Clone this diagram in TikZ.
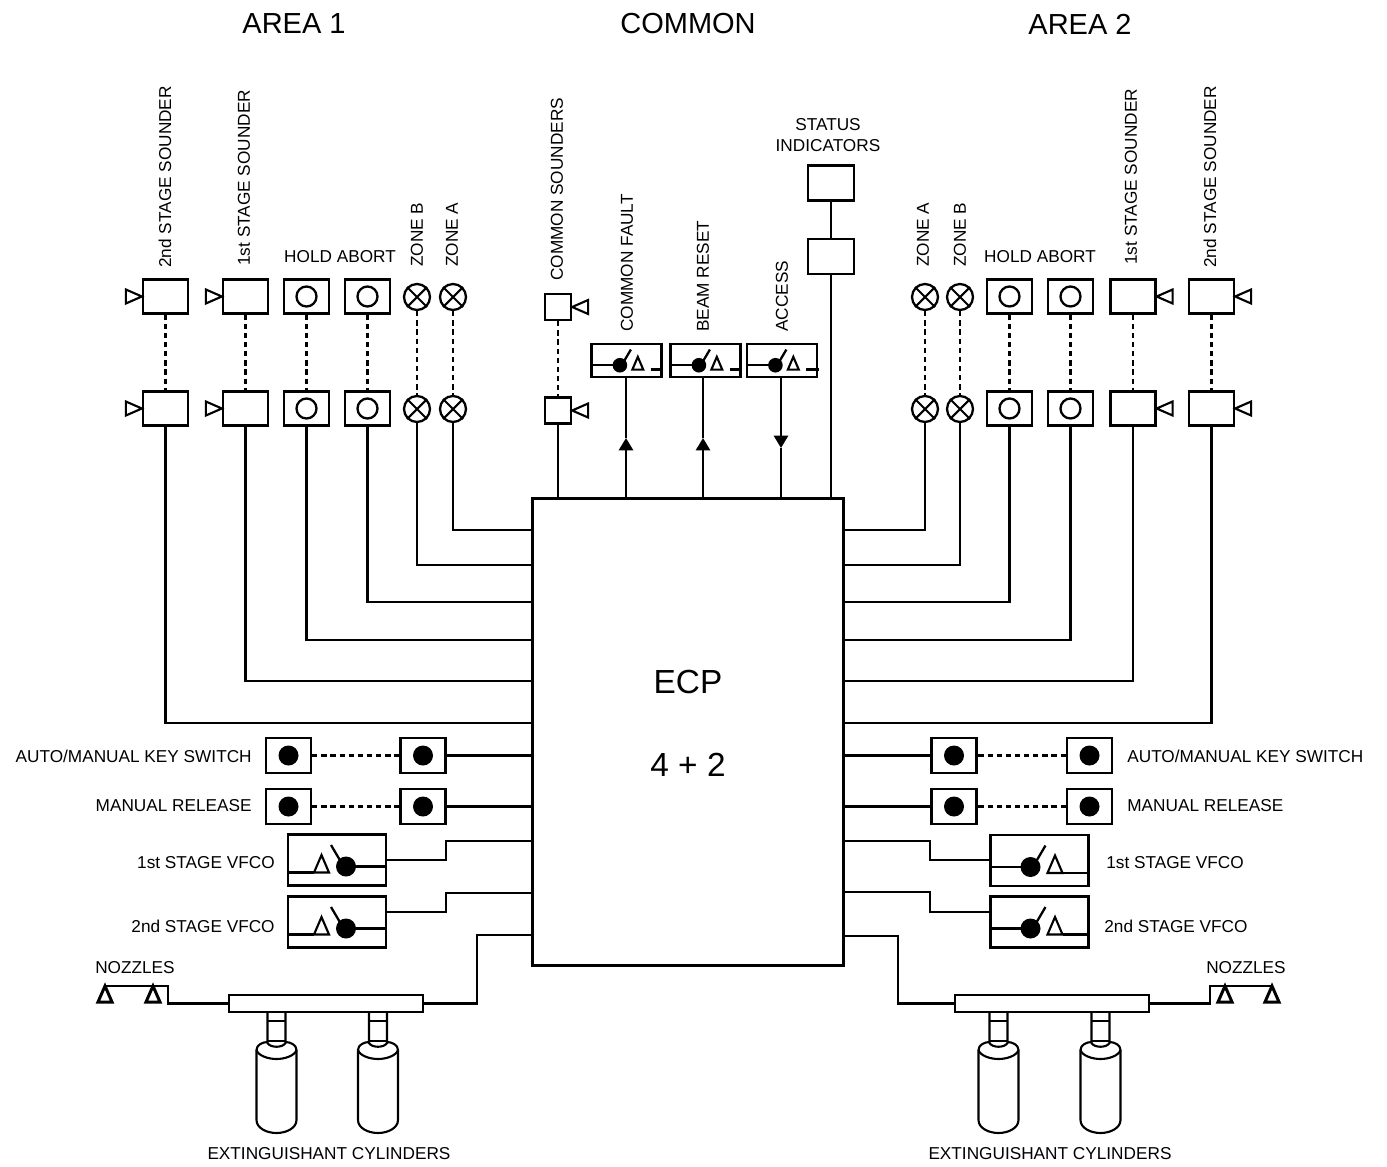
\documentclass[tikz,border=0pt]{standalone}
\usepackage{fontspec}
\setmainfont{Liberation Sans}
\usetikzlibrary{arrows.meta,positioning}
\tikzset{
  wire/.style={line width=1.3pt},
  thinwire/.style={line width=1.2pt},
  link/.style={line width=1.3pt, dash pattern=on 3pt off 2.2pt},
  sndbox/.style={draw, line width=1.3pt, fill=white, inner sep=0pt, minimum width=0.9cm, minimum height=0.68cm},
  smallbox/.style={draw, line width=1.3pt, fill=white, inner sep=0pt, minimum width=0.52cm, minimum height=0.52cm},
  keybox/.style={draw, line width=1.3pt, fill=white, inner sep=0pt, minimum width=0.9cm, minimum height=0.7cm},
  statbox/.style={draw, line width=1.3pt, fill=white, inner sep=0pt, minimum width=0.92cm, minimum height=0.7cm},
  swbox/.style={draw, line width=1.3pt, fill=white, inner sep=0pt, minimum width=1.4cm, minimum height=0.66cm},
  vfcobox/.style={draw, line width=1.3pt, fill=white, inner sep=0pt, minimum width=1.96cm, minimum height=1.02cm},
  zonelamp/.style={draw, circle, line width=1.3pt, fill=white, inner sep=0pt, minimum size=0.52cm},
  manifold/.style={draw, line width=1.3pt, fill=white, inner sep=0pt, minimum width=3.88cm, minimum height=0.34cm},
  label/.style={font=\fontsize{9.8}{12}\selectfont, inner sep=0pt, align=center},
  vlabel/.style={label, rotate=90, anchor=west},
  title/.style={font=\fontsize{16.5}{20}\selectfont, inner sep=0pt}
}
\newcommand{\hornleft}[1]{\draw[thinwire] (#1.west) -- ++(-16,-7) -- ++(0,14) -- cycle;}
\newcommand{\hornright}[1]{\draw[thinwire] (#1.east) -- ++(16,-7) -- ++(0,14) -- cycle;}
\newcommand{\lampcross}[1]{\draw[thinwire] (#1.north west) -- (#1.south east) (#1.north east) -- (#1.south west);}
\newcommand{\switchsym}[3]{%
  \begin{scope}[shift={(#1)},#2]
    \draw[wire] (-50,6.5) -- (-9,6.5);
    \fill (-9,6.5) circle (10);
    \draw[wire] (-4,2) -- (6,-15);
    \draw[thinwire] (8,12.5) -- (15.5,-5) -- (23,12.5) -- cycle;
    \draw[wire] (#3,12.5) -- (50,12.5);
  \end{scope}}
\newcommand{\nozzle}[1]{\draw[line width=1.7pt, fill=white] (#1) -- ++(-7,16) -- ++(14,0) -- cycle;}
\newcommand{\cylinder}[1]{%
  \begin{scope}[shift={(#1,0)}]
    \draw[thinwire] (-20,1120) -- (-20,1050) .. controls (-20,1045) and (-14,1042) .. (-9,1042) -- (9,1042) .. controls (14,1042) and (20,1045) .. (20,1050) -- (20,1120) .. controls (20,1128) and (10,1133) .. (0,1133) .. controls (-10,1133) and (-20,1128) .. (-20,1120);
    \draw[thinwire] (-20,1050) .. controls (-18,1056) and (-8,1059) .. (0,1059) .. controls (8,1059) and (18,1056) .. (20,1050);
    \draw[thinwire, fill=white] (-9,1013) -- (-9,1043) .. controls (-6,1048) and (6,1048) .. (9,1043) -- (9,1013);
    \draw[thinwire] (-9,1021) -- (9,1021) (-9,1041) -- (9,1041);
  \end{scope}}

\begin{document}
\begin{tikzpicture}[x=0.02cm, y=-0.02cm]
  \useasboundingbox (0,0) rectangle (1387,1167);

  % Headings
  \node[title] (tarea1) at (294,24) {AREA 1};
  \node[title] (tcommon) at (688,24) {COMMON};
  \node[title] (tarea2) at (1080,24) {AREA 2};

  % Control panel
  \node[draw, line width=1.3pt, fill=white, inner sep=0pt, minimum width=6.22cm, minimum height=9.34cm] (ecp) at (688,732) {};
  \node[font=\fontsize{19}{22}\selectfont, inner sep=0pt] (tecp) at (688,682) {ECP};
  \node[font=\fontsize{19}{22}\selectfont, inner sep=0pt] (tfour) at (688,765) {4 + 2};

  % Area 1: top row
  \node[sndbox] (s1a) at (165.5,296.5) {};
  \node[sndbox] (s2a) at (245.5,296.5) {};
  \node[sndbox] (h1a) at (306.5,296.5) {};
  \node[sndbox] (h2a) at (367.5,296.5) {};
  \node[zonelamp] (z1a) at (417,297) {};
  \node[zonelamp] (z2a) at (453,297) {};
  % Area 1: bottom row
  \node[sndbox] (s1b) at (165.5,408.5) {};
  \node[sndbox] (s2b) at (245.5,408.5) {};
  \node[sndbox] (h1b) at (306.5,408.5) {};
  \node[sndbox] (h2b) at (367.5,408.5) {};
  \node[zonelamp] (z1b) at (417,409) {};
  \node[zonelamp] (z2b) at (453,409) {};
  \hornleft{s1a} \hornleft{s2a} \hornleft{s1b} \hornleft{s2b}
  \draw[wire] (h1a) circle (10) (h2a) circle (10) (h1b) circle (10) (h2b) circle (10);
  \lampcross{z1a} \lampcross{z2a} \lampcross{z1b} \lampcross{z2b}
  \draw[link] (s1a) -- (s1b);
  \draw[link] (s2a) -- (s2b);
  \draw[link] (h1a) -- (h1b);
  \draw[link] (h2a) -- (h2b);
  \draw[link] (z1a) -- (z1b);
  \draw[link] (z2a) -- (z2b);
  \draw[wire] (z2b) |- (ecp.west |- 0,530);
  \draw[wire] (z1b) |- (ecp.west |- 0,565);
  \draw[wire] (h2b) |- (ecp.west |- 0,602);
  \draw[wire] (h1b) |- (ecp.west |- 0,640);
  \draw[wire] (s2b) |- (ecp.west |- 0,681);
  \draw[wire] (s1b) |- (ecp.west |- 0,723);

  % Area 2: top row
  \node[sndbox] (rs1a) at (1211.5,296.5) {};
  \node[sndbox] (rs2a) at (1133,296.5) {};
  \node[sndbox] (rh1a) at (1009.5,296.5) {};
  \node[sndbox] (rh2a) at (1070.5,296.5) {};
  \node[zonelamp] (rz1a) at (960,297) {};
  \node[zonelamp] (rz2a) at (925,297) {};
  % Area 2: bottom row
  \node[sndbox] (rs1b) at (1211.5,408.5) {};
  \node[sndbox] (rs2b) at (1133,408.5) {};
  \node[sndbox] (rh1b) at (1009.5,408.5) {};
  \node[sndbox] (rh2b) at (1070.5,408.5) {};
  \node[zonelamp] (rz1b) at (960,409) {};
  \node[zonelamp] (rz2b) at (925,409) {};
  \hornright{rs1a} \hornright{rs2a} \hornright{rs1b} \hornright{rs2b}
  \draw[wire] (rh1a) circle (10) (rh2a) circle (10) (rh1b) circle (10) (rh2b) circle (10);
  \lampcross{rz1a} \lampcross{rz2a} \lampcross{rz1b} \lampcross{rz2b}
  \draw[link] (rs1a) -- (rs1b);
  \draw[link] (rs2a) -- (rs2b);
  \draw[link] (rh1a) -- (rh1b);
  \draw[link] (rh2a) -- (rh2b);
  \draw[link] (rz1a) -- (rz1b);
  \draw[link] (rz2a) -- (rz2b);
  \draw[wire] (rz2b) |- (ecp.east |- 0,530);
  \draw[wire] (rz1b) |- (ecp.east |- 0,565);
  \draw[wire] (rh1b) |- (ecp.east |- 0,602);
  \draw[wire] (rh2b) |- (ecp.east |- 0,640);
  \draw[wire] (rs2b) |- (ecp.east |- 0,681);
  \draw[wire] (rs1b) |- (ecp.east |- 0,723);

  % Common
  \node[smallbox] (c1a) at (558,307) {};
  \node[smallbox] (c1b) at (558,410.5) {};
  \hornright{c1a} \hornright{c1b}
  \draw[link] (c1a) -- (c1b);
  \draw[wire] (c1b) -- (ecp.north -| c1b);
  \node[swbox] (sw1) at (626.5,360.5) {};
  \node[swbox] (sw2) at (705.5,360.5) {};
  \node[swbox] (sw3) at (782,360.5) {};
  \switchsym{sw1}{scale=.73}{33}
  \switchsym{sw2}{scale=.73}{33}
  \switchsym{sw3}{scale=.73}{33}
  \coordinate (a1) at (626,438);
  \coordinate (a2) at (703,438);
  \coordinate (a3) at (781,448);
  \draw[wire, -{Triangle[length=7pt,width=8pt]}] (ecp.north -| a1) -- (a1);
  \draw[wire] (a1) -- (sw1.south -| a1);
  \draw[wire, -{Triangle[length=7pt,width=8pt]}] (ecp.north -| a2) -- (a2);
  \draw[wire] (a2) -- (sw2.south -| a2);
  \draw[wire, -{Triangle[length=7pt,width=8pt]}] (sw3.south -| a3) -- (a3);
  \draw[wire] (a3) -- (ecp.north -| a3);
  \node[statbox] (st1) at (831,183) {};
  \node[statbox] (st2) at (831,256.5) {};
  \draw[wire] (st1) -- (st2);
  \draw[wire] (st2) -- (ecp.north -| st2);

  % Key switches
  \node[keybox] (k1a) at (288.5,755.5) {};
  \node[keybox] (k1b) at (423,755.5) {};
  \node[keybox] (k2a) at (288.5,806.5) {};
  \node[keybox] (k2b) at (423,806.5) {};
  \node[keybox] (rk1a) at (1089.5,755.5) {};
  \node[keybox] (rk1b) at (954,755.5) {};
  \node[keybox] (rk2a) at (1089.5,806.5) {};
  \node[keybox] (rk2b) at (954,806.5) {};
  \fill (k1a) circle (10) (k1b) circle (10) (k2a) circle (10) (k2b) circle (10);
  \fill (rk1a) circle (10) (rk1b) circle (10) (rk2a) circle (10) (rk2b) circle (10);
  \draw[link] (k1a) -- (k1b);
  \draw[link] (k2a) -- (k2b);
  \draw[link] (rk1a) -- (rk1b);
  \draw[link] (rk2a) -- (rk2b);
  \draw[wire] (k1b) -- (ecp.west |- k1b);
  \draw[wire] (k2b) -- (ecp.west |- k2b);
  \draw[wire] (rk1b) -- (ecp.east |- rk1b);
  \draw[wire] (rk2b) -- (ecp.east |- rk2b);

  % VFCO units
  \node[vfcobox] (v1) at (337,860) {};
  \node[vfcobox] (v2) at (337,922) {};
  \node[vfcobox] (rv1) at (1039.5,860.5) {};
  \node[vfcobox] (rv2) at (1039.5,922) {};
  \switchsym{v1}{xscale=-1}{23}
  \switchsym{v2}{xscale=-1}{23}
  \switchsym{rv1}{}{23}
  \switchsym{rv2}{}{23}
  \draw[wire] (v1.east |- 0,860) -- (446,860) |- (ecp.west |- 0,841);
  \draw[wire] (v2.east |- 0,912) -- (446,912) |- (ecp.west |- 0,893);
  \draw[wire] (rv1.west |- 0,860) -- (930,860) |- (ecp.east |- 0,841);
  \draw[wire] (rv2.west |- 0,912) -- (930,912) |- (ecp.east |- 0,892);

  % Manifolds, nozzles and cylinders
  \node[manifold] (m1) at (326,1003.5) {};
  \node[manifold] (m2) at (1052,1003.5) {};
  \draw[wire] (m1.east) -| (477,935) -- (ecp.west |- 0,935);
  \draw[wire] (m2.west) -| (898,936) -- (ecp.east |- 0,936);
  \coordinate (n1a) at (105,986);
  \coordinate (n1b) at (153,986);
  \coordinate (n1c) at (168,986);
  \coordinate (n2a) at (1225,986);
  \coordinate (n2b) at (1272,986);
  \coordinate (n2c) at (1210,986);
  \draw[wire] (m1.west) -| (n1c) -- (n1a);
  \draw[wire] (m2.east) -| (n2c) -- (n2b);
  \nozzle{n1a} \nozzle{n1b} \nozzle{n2a} \nozzle{n2b}
  \cylinder{276.5} \cylinder{378} \cylinder{998.5} \cylinder{1100.5}

  % Labels
  \node[vlabel] (l1) at (165,268) {2nd STAGE SOUNDER};
  \node[vlabel] (l2) at (244,266) {1st STAGE SOUNDER};
  \node[label] (l3) at (340,257) {HOLD ABORT};
  \node[vlabel] (l4) at (417,267) {ZONE B};
  \node[vlabel] (l5) at (452,267) {ZONE A};
  \node[vlabel] (l6) at (557,281) {COMMON SOUNDERS};
  \node[vlabel] (l7) at (627,332) {COMMON FAULT};
  \node[vlabel] (l8) at (703,332) {BEAM RESET};
  \node[vlabel] (l9) at (782,332) {ACCESS};
  \node[label] (l10) at (828,135) {STATUS\\INDICATORS};
  \node[vlabel] (l11) at (923,267) {ZONE A};
  \node[vlabel] (l12) at (960,267) {ZONE B};
  \node[label] (l13) at (1040,257) {HOLD ABORT};
  \node[vlabel] (l14) at (1131,265) {1st STAGE SOUNDER};
  \node[vlabel] (l15) at (1210,268) {2nd STAGE SOUNDER};
  \node[label, anchor=east] (l16) at (252,756) {AUTO/MANUAL KEY SWITCH};
  \node[label, anchor=east] (l17) at (252,806) {MANUAL RELEASE};
  \node[label, anchor=east] (l18) at (275,863) {1st STAGE VFCO};
  \node[label, anchor=east] (l19) at (275,926) {2nd STAGE VFCO};
  \node[label, anchor=west] (l20) at (1127,756) {AUTO/MANUAL KEY SWITCH};
  \node[label, anchor=west] (l21) at (1127,806) {MANUAL RELEASE};
  \node[label, anchor=west] (l22) at (1106,863) {1st STAGE VFCO};
  \node[label, anchor=west] (l23) at (1104,926) {2nd STAGE VFCO};
  \node[label] (l24) at (135,968) {NOZZLES};
  \node[label] (l25) at (1246,968) {NOZZLES};
  \node[label] (l26) at (329,1154) {EXTINGUISHANT CYLINDERS};
  \node[label] (l27) at (1050,1154) {EXTINGUISHANT CYLINDERS};
\end{tikzpicture}
\end{document}
